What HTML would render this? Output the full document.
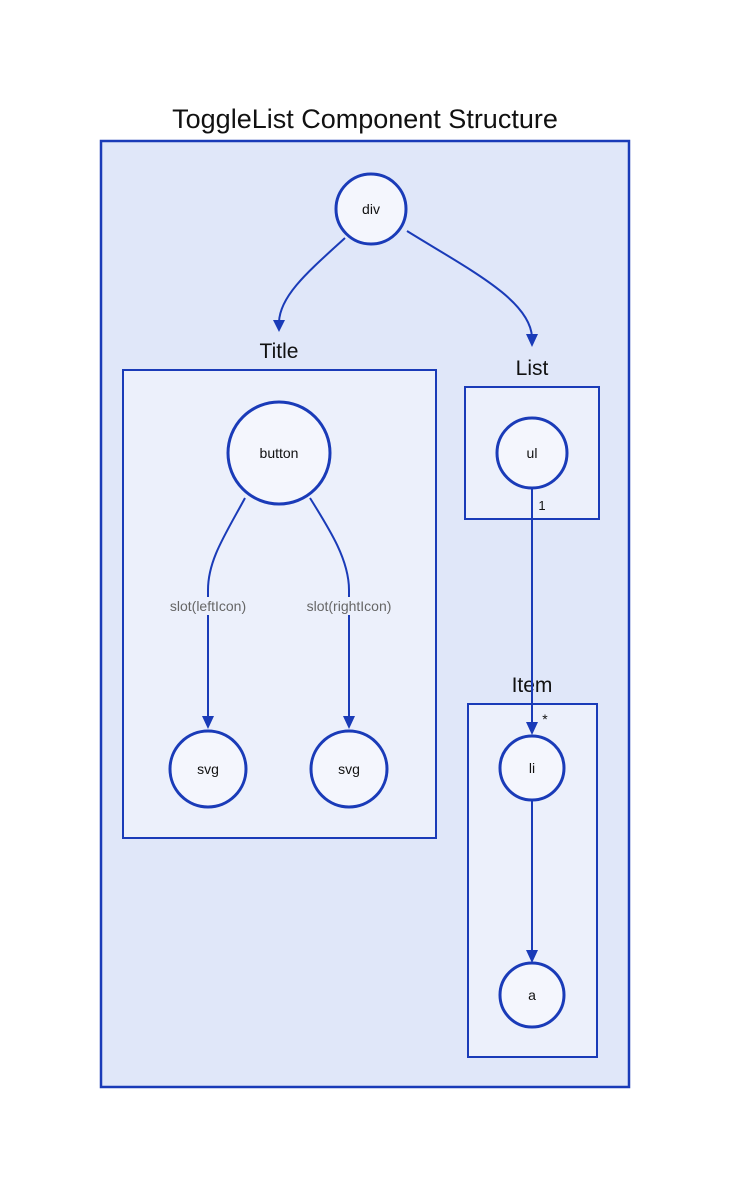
<!DOCTYPE html>
<html><head><meta charset="utf-8"><style>
html,body{margin:0;padding:0;background:#fff;}
svg{display:block;}
text{font-family:"Comic Sans MS","Liberation Sans",sans-serif;}
</style></head><body>
<svg width="730" height="1189" viewBox="0 0 730 1189" xmlns="http://www.w3.org/2000/svg">
<text x="365" y="128" font-size="27" text-anchor="middle" fill="#111">ToggleList Component Structure</text>
<rect x="101" y="141" width="528" height="946" fill="#e0e7f9" stroke="#1a3bb8" stroke-width="2.5"/>
<rect x="123" y="370" width="313" height="468" fill="#ecf0fb" stroke="#1a3bb8" stroke-width="2"/>
<rect x="465" y="387" width="134" height="132" fill="#ecf0fb" stroke="#1a3bb8" stroke-width="2"/>
<rect x="468" y="704" width="129" height="353" fill="#ecf0fb" stroke="#1a3bb8" stroke-width="2"/>
<text x="279" y="358" font-size="21" text-anchor="middle" fill="#111">Title</text>
<text x="532" y="375" font-size="21" text-anchor="middle" fill="#111">List</text>
<text x="532" y="692" font-size="21" text-anchor="middle" fill="#111">Item</text>
<g fill="none" stroke="#1a3bb8" stroke-width="2">
<path d="M345,238 C310,270 280,295 279,322"/>
<path d="M407,231 C470,270 530,300 532,337"/>
<path d="M245,498 C225,535 208,560 208,590 L208,718"/>
<path d="M310,498 C330,530 349,560 349,590 L349,718"/>
<path d="M532,488 L532,724"/>
<path d="M532,800 L532,952"/>
</g>
<g fill="#1a3bb8">
<path d="M273,320 L285,320 L279,332 Z"/>
<path d="M526,334 L538,334 L532,347 Z"/>
<path d="M202,716 L214,716 L208,729 Z"/>
<path d="M343,716 L355,716 L349,729 Z"/>
<path d="M526,722 L538,722 L532,735 Z"/>
<path d="M526,950 L538,950 L532,963 Z"/>
</g>
<g fill="#f4f6fd" stroke="#1a3bb8" stroke-width="3">
<circle cx="371" cy="209" r="35"/>
<circle cx="279" cy="453" r="51"/>
<circle cx="532" cy="453" r="35"/>
<circle cx="208" cy="769" r="38"/>
<circle cx="349" cy="769" r="38"/>
<circle cx="532" cy="768" r="32"/>
<circle cx="532" cy="995" r="32"/>
</g>
<g font-size="14" text-anchor="middle" fill="#111">
<text x="371" y="214">div</text>
<text x="279" y="458">button</text>
<text x="532" y="458">ul</text>
<text x="208" y="774">svg</text>
<text x="349" y="774">svg</text>
<text x="532" y="773">li</text>
<text x="532" y="1000">a</text>
</g>
<rect x="150" y="597" width="116" height="18" fill="#ecf0fb"/>
<rect x="287" y="597" width="124" height="18" fill="#ecf0fb"/>
<g font-size="14" text-anchor="middle" fill="#666">
<text x="208" y="611">slot(leftIcon)</text>
<text x="349" y="611">slot(rightIcon)</text>
</g>
<text x="542" y="510" font-size="13" text-anchor="middle" fill="#111">1</text>
<text x="545" y="724" font-size="14" text-anchor="middle" fill="#111">*</text>
</svg>
</body></html>
